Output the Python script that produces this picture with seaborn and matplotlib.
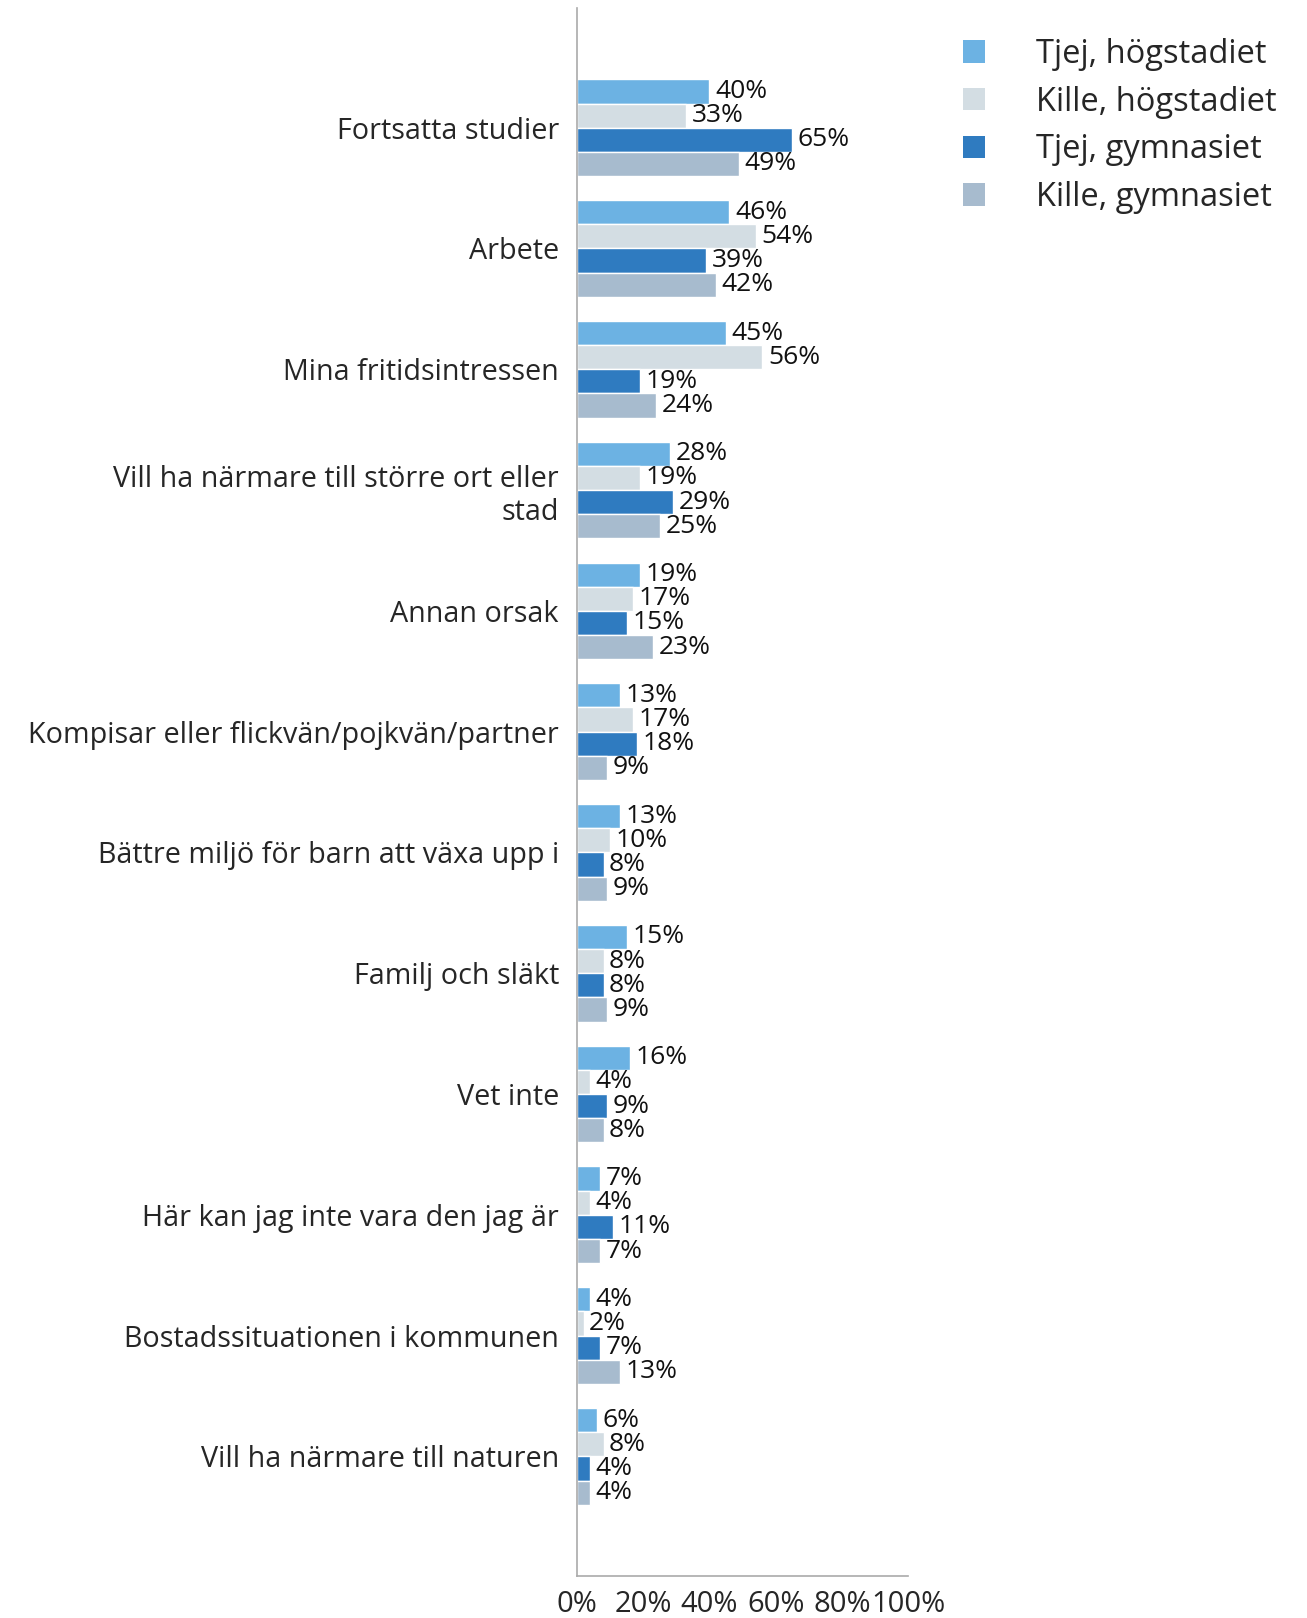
import numpy as np
import pandas as pd
import matplotlib
matplotlib.use("Agg")
import matplotlib.pyplot as plt
import seaborn as sns
from matplotlib.patches import Patch

categories = [
    "Fortsatta studier",
    "Arbete",
    "Mina fritidsintressen",
    "Vill ha närmare till större ort eller\nstad",
    "Annan orsak",
    "Kompisar eller flickvän/pojkvän/partner",
    "Bättre miljö för barn att växa upp i",
    "Familj och släkt",
    "Vet inte",
    "Här kan jag inte vara den jag är",
    "Bostadssituationen i kommunen",
    "Vill ha närmare till naturen",
]
series = ["Tjej, högstadiet", "Kille, högstadiet", "Tjej, gymnasiet", "Kille, gymnasiet"]
tjej_hog = [40, 46, 45, 28, 19, 13, 13, 15, 16, 7, 4, 6]
kille_hog = [33, 54, 56, 19, 17, 17, 10, 8, 4, 4, 2, 8]
tjej_gym = [65, 39, 19, 29, 15, 18, 8, 8, 9, 11, 7, 4]
kille_gym = [49, 42, 24, 25, 23, 9, 9, 9, 8, 7, 13, 4]
colors = ["#6CB2E3", "#D3DDE3", "#2F7BC0", "#A7BBCE"]

rows = []
for name, vals in zip(series, [tjej_hog, kille_hog, tjej_gym, kille_gym]):
    for cat, v in zip(categories, vals):
        rows.append({"kategori": cat, "grupp": name, "andel": v})
df = pd.DataFrame(rows)

sns.set_style("white")
plt.rcParams['font.family'] = ['Open Sans', 'DejaVu Sans']

fig = plt.figure(figsize=(13.07, 16.18), dpi=100)
ax = fig.add_axes([0.4415, 0.026, 0.2533, 0.969])

sns.barplot(data=df, y="kategori", x="andel", hue="grupp", orient="h",
            palette=colors, saturation=1, width=0.8, ax=ax, legend=False,
            order=categories, hue_order=series, errorbar=None)

for cont in ax.containers:
    ax.bar_label(cont, labels=[f"{int(v)}%" for v in cont.datavalues],
                 padding=4, fontsize=19, color="#111111")

ax.set_xlim(0, 100)
ax.set_ylim(len(categories) - 1 + 0.99, -0.99)
ax.set_xticks([0, 20, 40, 60, 80, 100])
ax.set_xticklabels([f"{t}%" for t in [0, 20, 40, 60, 80, 100]], fontsize=21)
ax.tick_params(axis="y", labelsize=20.7, length=8, color="#999999", pad=5)
ax.tick_params(axis="x", length=8, color="#999999", pad=2)
for lbl in ax.get_yticklabels():
    lbl.set_horizontalalignment("right")
ax.set_xlabel("")
ax.set_ylabel("")
for s in ["top", "right"]:
    ax.spines[s].set_visible(False)
for s in ["left", "bottom"]:
    ax.spines[s].set_color("#AAAAAA")
    ax.spines[s].set_linewidth(1.2)

handles = [Patch(facecolor=c, edgecolor="none") for c in colors]
fig.legend(handles, series, loc="upper left", bbox_to_anchor=(0.737, 0.9765),
           frameon=False, fontsize=23.5, handlelength=0.68, handleheight=0.68,
           handletextpad=1.55, labelspacing=0.45, borderpad=0, borderaxespad=0)

fig.savefig("out.png", dpi=100)
